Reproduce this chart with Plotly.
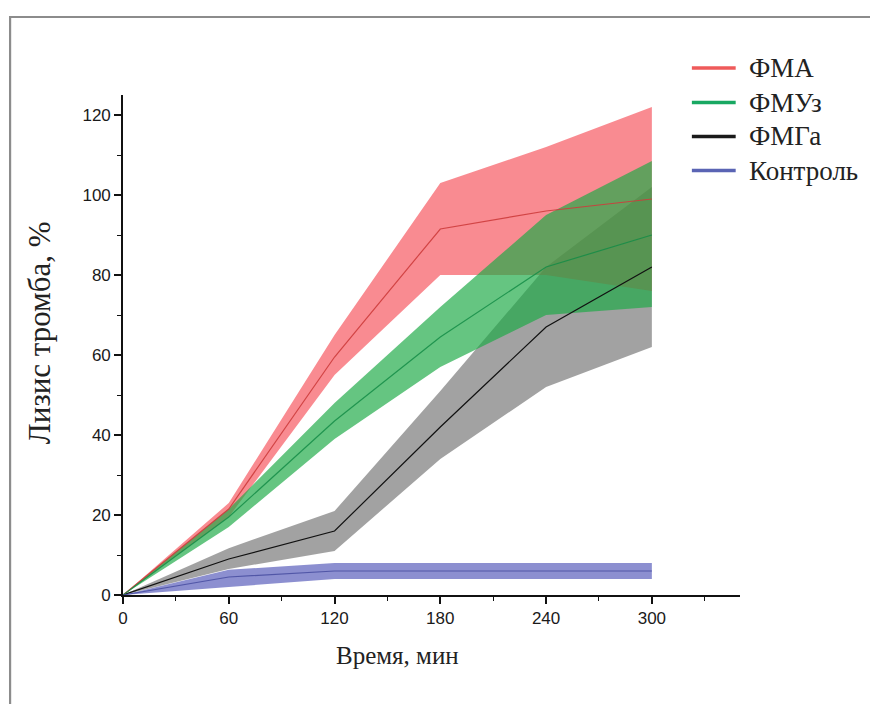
import numpy as np
import plotly.graph_objects as go

# Time points, min
time_min = [0, 60, 120, 180, 240, 300]

# Thrombus lysis, % (mean and band limits)
fma_mean = [0, 21.5, 59.5, 91.5, 96, 99]
fma_low = [0, 19.5, 55, 80, 80, 76]
fma_high = [0, 23, 65, 103, 112, 122]

fmuz_mean = [0, 19.5, 43.5, 64.5, 82, 90]
fmuz_low = [0, 17, 39, 57, 70, 72]
fmuz_high = [0, 21.5, 48, 72, 95, 108.5]

fmga_mean = [0, 9, 16, 42, 67, 82]
fmga_low = [0, 6.5, 11, 34, 52, 62]
fmga_high = [0, 11.7, 21, 51, 82, 102]

ctrl_mean = [0, 4.5, 6, 6, 6, 6]
ctrl_low = [0, 2, 4, 4, 4, 4]
ctrl_high = [0, 6.3, 8, 8, 8, 8]

names = ["ФМА", "ФМУз", "ФМГа", "Контроль"]

series = {
    "ФМА": dict(mean=fma_mean, low=fma_low, high=fma_high,
                fill="rgba(245,62,72,0.60)", line="rgba(205,60,60,0.9)",
                legend="#ef5a5a"),
    "ФМУз": dict(mean=fmuz_mean, low=fmuz_low, high=fmuz_high,
                 fill="rgba(28,170,70,0.68)", line="rgba(20,140,70,0.85)",
                 legend="#18a862"),
    "ФМГа": dict(mean=fmga_mean, low=fmga_low, high=fmga_high,
                 fill="rgba(80,80,80,0.53)", line="#111111",
                 legend="#1a1a1a"),
    "Контроль": dict(mean=ctrl_mean, low=ctrl_low, high=ctrl_high,
                     fill="rgba(95,100,190,0.72)", line="rgba(70,76,160,0.85)",
                     legend="#5a64b4"),
}

fig = go.Figure()
x = np.array(time_min, dtype=float)

# Bands, bottom to top
for name in ["ФМГа", "ФМА", "ФМУз", "Контроль"]:
    s = series[name]
    xs = np.concatenate([x, x[::-1]])
    ys = np.concatenate([np.array(s["high"], float), np.array(s["low"], float)[::-1]])
    fig.add_trace(go.Scatter(x=xs, y=ys, mode="lines", fill="toself",
                             fillcolor=s["fill"], line=dict(width=0),
                             hoverinfo="skip", showlegend=False))

# Mean curves
for name in ["ФМГа", "ФМА", "ФМУз", "Контроль"]:
    s = series[name]
    fig.add_trace(go.Scatter(x=x, y=s["mean"], mode="lines",
                             line=dict(color=s["line"], width=1.2),
                             name=name, showlegend=False))

# Legend drawn as short line samples with labels
legend_y = [1.054, 0.985, 0.917, 0.849]
shapes = []
annotations = []
for name, ly in zip(names, legend_y):
    shapes.append(dict(type="line", xref="paper", yref="paper",
                       x0=0.922, x1=0.993, y0=ly, y1=ly,
                       line=dict(color=series[name]["legend"], width=3.5)))
    annotations.append(dict(xref="paper", yref="paper", x=1.012, y=ly,
                            xanchor="left", yanchor="middle", showarrow=False,
                            text=name,
                            font=dict(family="Liberation Serif", size=27, color="#222")))

# Outer frame
shapes.append(dict(type="rect", xref="paper", yref="paper",
                   x0=-0.183, x1=1.30, y0=-0.30, y1=1.156,
                   line=dict(color="#8c8c8c", width=2.2), layer="below"))

annotations.append(dict(xref="paper", yref="paper", x=0.445, y=-0.12,
                        xanchor="center", yanchor="middle", showarrow=False,
                        text="Время, мин",
                        font=dict(family="Liberation Serif", size=25, color="#222")))
annotations.append(dict(xref="paper", yref="paper", x=-0.135, y=0.525,
                        xanchor="center", yanchor="middle", showarrow=False,
                        textangle=-90, text="Лизис тромба, %",
                        font=dict(family="Liberation Serif", size=31, color="#222")))

tick_font = dict(family="Liberation Sans", size=17, color="#1a1a1a")

fig.update_layout(
    width=870, height=704,
    margin=dict(l=123, r=130, t=95, b=109),
    paper_bgcolor="white", plot_bgcolor="white",
    showlegend=False,
    shapes=shapes, annotations=annotations,
    xaxis=dict(range=[0, 350], tick0=0, dtick=60, showgrid=False, zeroline=False,
               showline=True, linecolor="#111", linewidth=1.6,
               ticks="outside", ticklen=7, tickwidth=1.6, tickcolor="#111",
               tickfont=tick_font,
               minor=dict(ticks="outside", ticklen=4, tickwidth=1.4,
                          tickcolor="#111", dtick=30, tick0=0)),
    yaxis=dict(range=[0, 125], tick0=0, dtick=20, showgrid=False, zeroline=False,
               showline=True, linecolor="#111", linewidth=1.6,
               ticks="outside", ticklen=7, tickwidth=1.6, tickcolor="#111",
               tickfont=tick_font,
               minor=dict(ticks="outside", ticklen=4, tickwidth=1.4,
                          tickcolor="#111", dtick=10, tick0=0)),
)

fig.write_html("out.html")
